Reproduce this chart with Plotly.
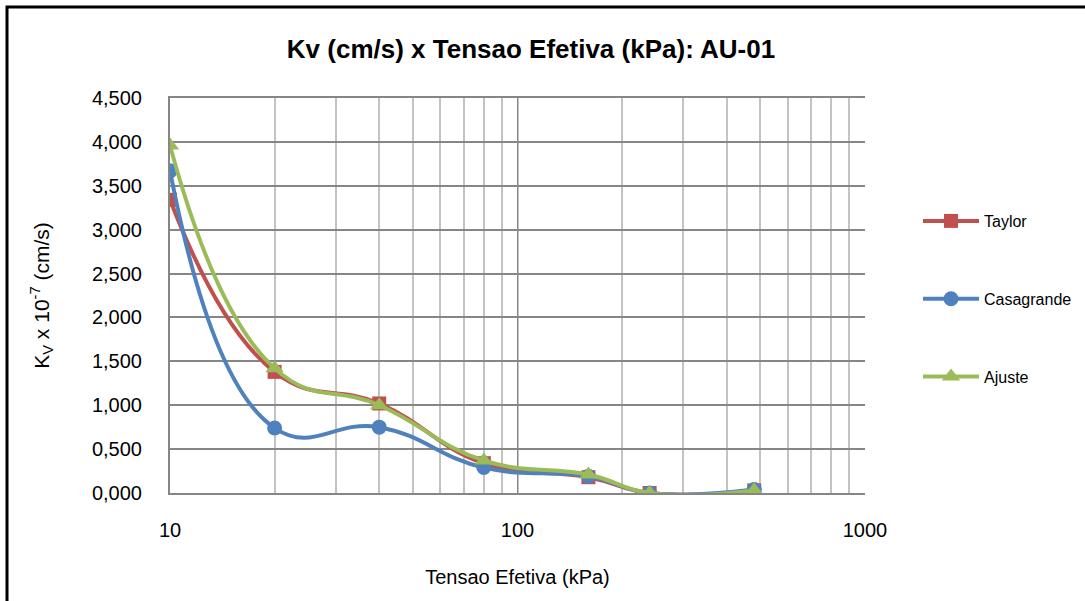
import plotly.graph_objects as go

# Effective stress (kPa) and consolidation coefficient Kv (x 10^-7 cm/s)
tensao = [10, 20, 40, 80, 160, 240, 480]
kv_taylor = [3.34, 1.38, 1.02, 0.34, 0.18, 0.0, 0.03]
kv_casagrande = [3.67, 0.74, 0.75, 0.29, 0.19, 0.0, 0.04]
kv_ajuste = [3.96, 1.42, 1.00, 0.37, 0.21, 0.0, 0.03]

x_tick_vals = [10, 100, 1000]
x_tick_text = ["10", "100", "1000"]
y_tick_vals = [0, 0.5, 1.0, 1.5, 2.0, 2.5, 3.0, 3.5, 4.0, 4.5]
y_tick_text = ["0,000", "0,500", "1,000", "1,500", "2,000", "2,500",
               "3,000", "3,500", "4,000", "4,500"]

FONT = "Liberation Sans, Arial, sans-serif"

fig = go.Figure()

series = [
    ("Taylor", kv_taylor, "#C0504D", "square", 14),
    ("Casagrande", kv_casagrande, "#4F81BD", "circle", 15),
    ("Ajuste", kv_ajuste, "#9BBB59", "triangle-up", 16),
]
for name, vals, color, symbol, size in series:
    fig.add_trace(go.Scatter(
        x=tensao, y=vals, name=name, legendgroup=name,
        mode="lines+markers",
        line=dict(color=color, width=4, shape="spline", smoothing=1.3),
        marker=dict(color=color, symbol=symbol, size=size),
    ))

L, R, T, B = 170, 220, 98, 108
W, H = 1085, 601
pw, ph = W - L - R, H - T - B

def px_x(p):
    return (p - L) / pw

def px_y(p):
    return (H - B - p) / ph

fig.update_layout(
    width=W, height=H,
    margin=dict(l=L, r=R, t=T, b=B, autoexpand=False),
    paper_bgcolor="white", plot_bgcolor="white",
    font=dict(family=FONT, color="#000000", size=16),
    title=dict(
        text="<b>Kv (cm/s) x Tensao Efetiva (kPa): AU-01</b>",
        x=531 / W, xanchor="center",
        y=1 - 49 / H, yanchor="middle",
        font=dict(size=26, family=FONT, color="#000000"),
    ),
    showlegend=True,
    legend=dict(
        x=px_x(918), xanchor="left",
        y=px_y(204), yanchor="top",
        font=dict(size=16, family=FONT),
        tracegroupgap=54, itemwidth=56,
        bgcolor="rgba(0,0,0,0)",
    ),
    xaxis=dict(
        type="log", range=[1, 3],
        tickvals=x_tick_vals, ticktext=x_tick_text,
        showgrid=True, gridcolor="#868686", gridwidth=1,
        minor=dict(showgrid=True, gridcolor="#C3C3C3", gridwidth=2, dtick="D1"),
        showline=True, linecolor="#868686", linewidth=2, mirror=True,
        ticks="", ticklabelstandoff=18,
        tickfont=dict(size=20),
        title=dict(text="Tensao Efetiva (kPa)", font=dict(size=20), standoff=30),
        zeroline=False,
    ),
    yaxis=dict(
        range=[0, 4.5],
        tickvals=y_tick_vals, ticktext=y_tick_text,
        showgrid=True, gridcolor="#868686", gridwidth=1.5,
        showline=True, linecolor="#868686", linewidth=2,
        ticks="", ticklabelstandoff=22,
        tickfont=dict(size=20),
        title=dict(text="K<sub>V</sub> x 10<sup>-7</sup> (cm/s)",
                   font=dict(size=21), standoff=37),
        zeroline=False,
    ),
)

# Outer chart frame
fig.add_shape(
    type="rect", xref="paper", yref="paper",
    x0=px_x(7), x1=px_x(W + 10), y0=px_y(W), y1=px_y(7),
    line=dict(color="#000000", width=3), fillcolor="rgba(0,0,0,0)",
    layer="above",
)

fig.write_html("out.html")
